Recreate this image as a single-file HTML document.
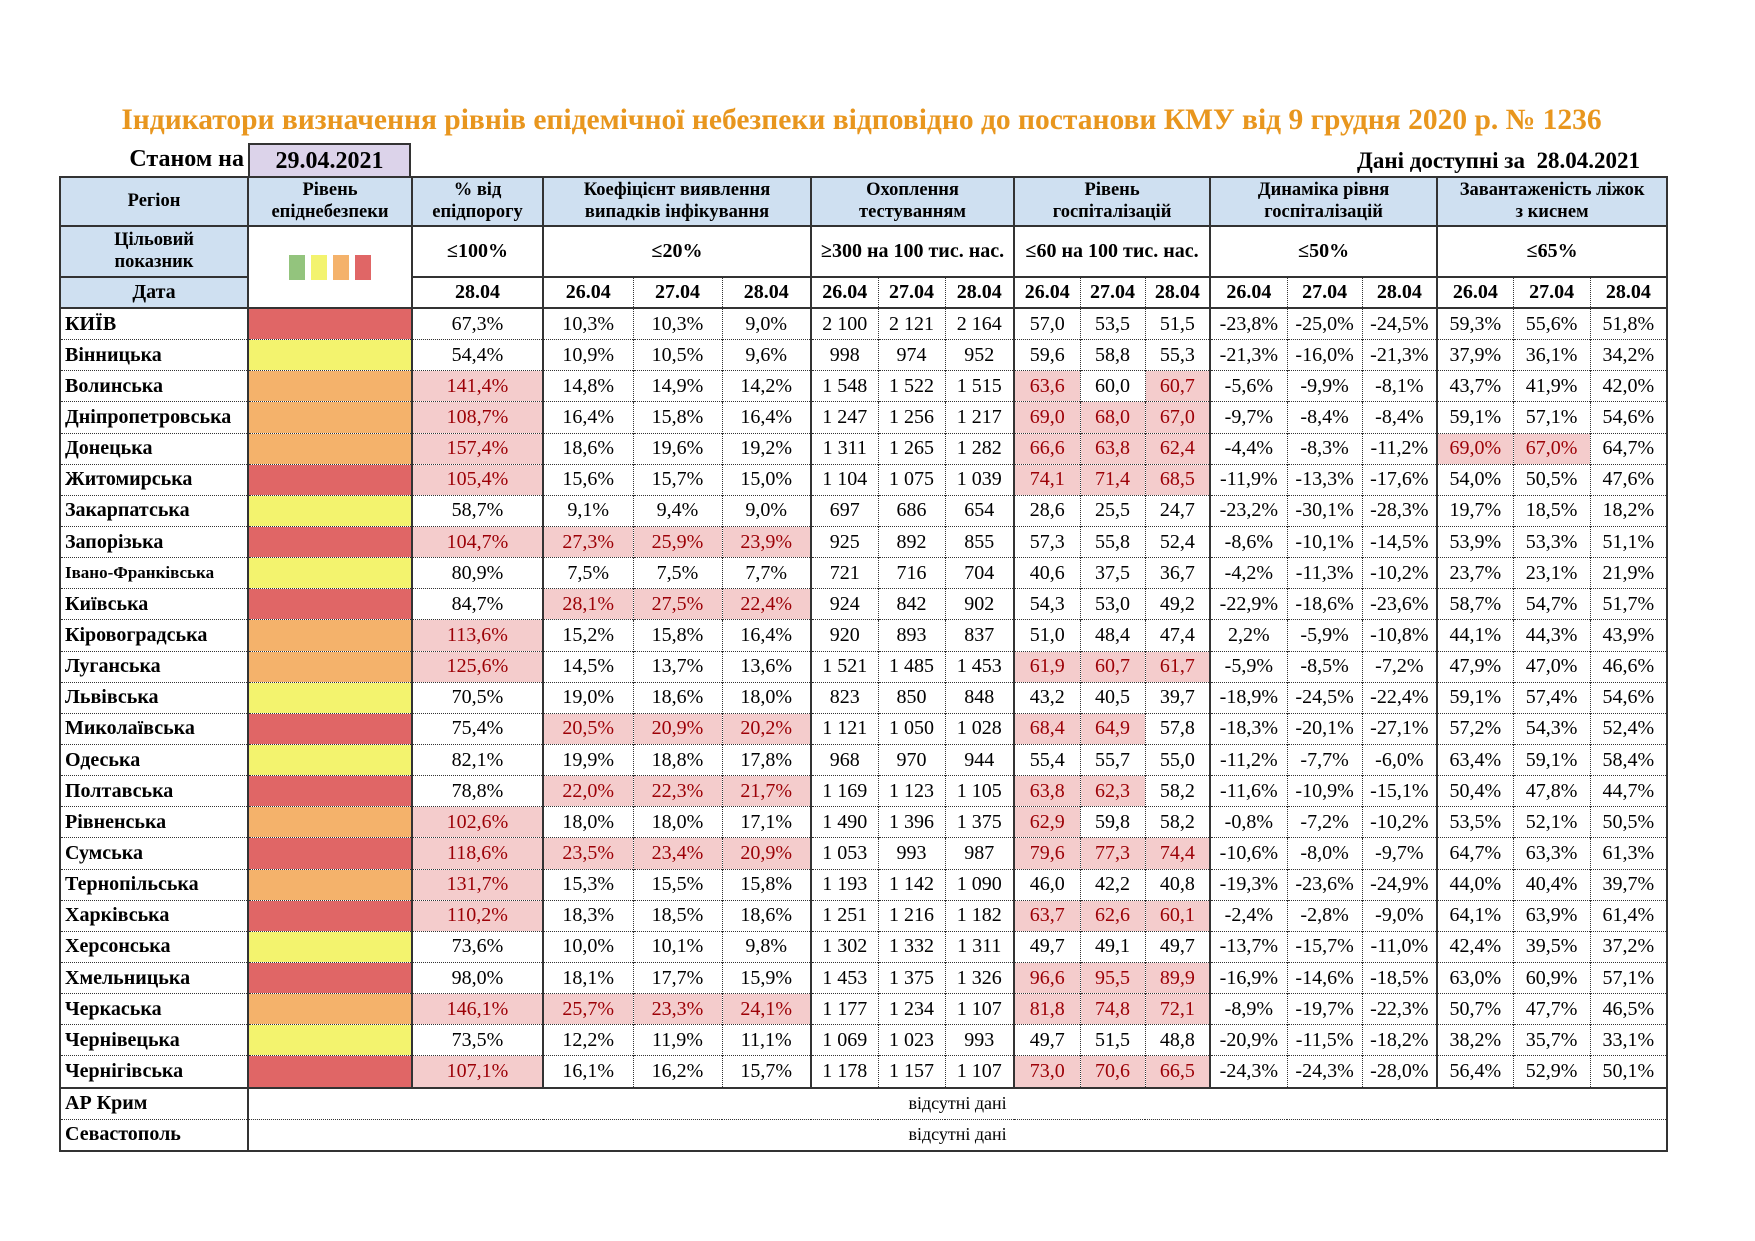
<!DOCTYPE html>
<html><head><meta charset="utf-8"><style>
body{margin:0;width:1755px;height:1241px;background:#fff;position:relative;font-family:"Liberation Serif",serif;overflow:hidden}
.title{position:absolute;left:-16px;width:1755px;top:104px;text-align:center;color:#E8961E;font-weight:bold;font-size:29.5px}
.st{position:absolute;left:98px;top:146px;width:146px;text-align:right;font-weight:bold;font-size:24px}
.dbox{position:absolute;left:248px;top:143px;width:163px;height:33px;background:#DCD3EA;border:2px solid #333;border-bottom:none;text-align:center;font-weight:bold;font-size:24px;line-height:33px;box-sizing:border-box}
.av{position:absolute;right:115px;top:148px;font-weight:bold;font-size:23px}
table{position:absolute;left:59px;top:176px;border-collapse:collapse;table-layout:fixed;width:1608px}
td{padding:0;text-align:center;font-size:20px;white-space:nowrap;border-left:1.5px dotted #333;border-top:1.5px dotted #333;overflow:hidden}
.hd td{background:#CFE0F1;font-weight:bold;font-size:18.5px;line-height:1.15;height:47px;border:2px solid #333}
.tg td{font-weight:bold;font-size:20px;height:49px;border:2px solid #333}
.dt td{font-weight:bold;font-size:20px;height:29px;border-top:2px solid #333;border-bottom:2px solid #333}
.b{background:#CFE0F1;font-weight:bold;border:2px solid #333!important}
td.g{border-left:2px solid #333}
tr.d td{height:30.15px}
td.rg{text-align:left;font-weight:bold;padding-left:4px;border-left:2px solid #333}
td.h{background:#F4CCCC;color:#9C0006}
td.r{background:#E06666;border-left:2px solid #333}td.y{background:#F3F36E;border-left:2px solid #333}td.o{background:#F4B26B;border-left:2px solid #333}
table{border:2px solid #333}
.sq{display:inline-block;width:16px;height:25px;margin:0 3px;vertical-align:middle}
</style></head><body>
<div class="title">Індикатори визначення рівнів епідемічної небезпеки відповідно до постанови КМУ від 9 грудня 2020 р. № 1236</div>
<div class="st">Станом на</div>
<div class="dbox">29.04.2021</div>
<div class="av">Дані доступні за&nbsp; 28.04.2021</div>
<table>
<colgroup><col style="width:188px"><col style="width:164px"><col style="width:131px"><col style="width:90px"><col style="width:89px"><col style="width:89px"><col style="width:67px"><col style="width:67px"><col style="width:69px"><col style="width:66px"><col style="width:65px"><col style="width:65px"><col style="width:77px"><col style="width:75px"><col style="width:75px"><col style="width:76px"><col style="width:77px"><col style="width:77px"></colgroup>
<tr class="hd"><td>Регіон</td><td>Рівень<br>епіднебезпеки</td><td>% від<br>епідпорогу</td><td colspan="3">Коефіцієнт виявлення<br>випадків інфікування</td><td colspan="3">Охоплення<br>тестуванням</td><td colspan="3">Рівень<br>госпіталізацій</td><td colspan="3">Динаміка рівня<br>госпіталізацій</td><td colspan="3">Завантаженість ліжок<br>з киснем</td></tr>
<tr class="tg"><td class="b" style="font-size:18.5px;line-height:1.15">Цільовий<br>показник</td><td rowspan="2" style="border:2px solid #333"><span class="sq" style="background:#93C47D"></span><span class="sq" style="background:#F3F36E"></span><span class="sq" style="background:#F4B26B"></span><span class="sq" style="background:#E06666"></span></td><td>≤100%</td><td colspan="3">≤20%</td><td colspan="3">≥300 на 100 тис. нас.</td><td colspan="3">≤60 на 100 тис. нас.</td><td colspan="3">≤50%</td><td colspan="3">≤65%</td></tr>
<tr class="dt"><td class="b">Дата</td><td class="g">28.04</td><td class="g">26.04</td><td>27.04</td><td>28.04</td><td class="g">26.04</td><td>27.04</td><td>28.04</td><td class="g">26.04</td><td>27.04</td><td>28.04</td><td class="g">26.04</td><td>27.04</td><td>28.04</td><td class="g">26.04</td><td>27.04</td><td>28.04</td></tr>
<tr class="d"><td class="rg">КИЇВ</td><td class="r"></td><td class="g">67,3%</td><td class="g">10,3%</td><td>10,3%</td><td>9,0%</td><td class="g">2 100</td><td>2 121</td><td>2 164</td><td class="g">57,0</td><td>53,5</td><td>51,5</td><td class="g">-23,8%</td><td>-25,0%</td><td>-24,5%</td><td class="g">59,3%</td><td>55,6%</td><td>51,8%</td></tr>
<tr class="d"><td class="rg">Вінницька</td><td class="y"></td><td class="g">54,4%</td><td class="g">10,9%</td><td>10,5%</td><td>9,6%</td><td class="g">998</td><td>974</td><td>952</td><td class="g">59,6</td><td>58,8</td><td>55,3</td><td class="g">-21,3%</td><td>-16,0%</td><td>-21,3%</td><td class="g">37,9%</td><td>36,1%</td><td>34,2%</td></tr>
<tr class="d"><td class="rg">Волинська</td><td class="o"></td><td class="g h">141,4%</td><td class="g">14,8%</td><td>14,9%</td><td>14,2%</td><td class="g">1 548</td><td>1 522</td><td>1 515</td><td class="g h">63,6</td><td>60,0</td><td class="h">60,7</td><td class="g">-5,6%</td><td>-9,9%</td><td>-8,1%</td><td class="g">43,7%</td><td>41,9%</td><td>42,0%</td></tr>
<tr class="d"><td class="rg">Дніпропетровська</td><td class="o"></td><td class="g h">108,7%</td><td class="g">16,4%</td><td>15,8%</td><td>16,4%</td><td class="g">1 247</td><td>1 256</td><td>1 217</td><td class="g h">69,0</td><td class="h">68,0</td><td class="h">67,0</td><td class="g">-9,7%</td><td>-8,4%</td><td>-8,4%</td><td class="g">59,1%</td><td>57,1%</td><td>54,6%</td></tr>
<tr class="d"><td class="rg">Донецька</td><td class="o"></td><td class="g h">157,4%</td><td class="g">18,6%</td><td>19,6%</td><td>19,2%</td><td class="g">1 311</td><td>1 265</td><td>1 282</td><td class="g h">66,6</td><td class="h">63,8</td><td class="h">62,4</td><td class="g">-4,4%</td><td>-8,3%</td><td>-11,2%</td><td class="g h">69,0%</td><td class="h">67,0%</td><td>64,7%</td></tr>
<tr class="d"><td class="rg">Житомирська</td><td class="r"></td><td class="g h">105,4%</td><td class="g">15,6%</td><td>15,7%</td><td>15,0%</td><td class="g">1 104</td><td>1 075</td><td>1 039</td><td class="g h">74,1</td><td class="h">71,4</td><td class="h">68,5</td><td class="g">-11,9%</td><td>-13,3%</td><td>-17,6%</td><td class="g">54,0%</td><td>50,5%</td><td>47,6%</td></tr>
<tr class="d"><td class="rg">Закарпатська</td><td class="y"></td><td class="g">58,7%</td><td class="g">9,1%</td><td>9,4%</td><td>9,0%</td><td class="g">697</td><td>686</td><td>654</td><td class="g">28,6</td><td>25,5</td><td>24,7</td><td class="g">-23,2%</td><td>-30,1%</td><td>-28,3%</td><td class="g">19,7%</td><td>18,5%</td><td>18,2%</td></tr>
<tr class="d"><td class="rg">Запорізька</td><td class="r"></td><td class="g h">104,7%</td><td class="g h">27,3%</td><td class="h">25,9%</td><td class="h">23,9%</td><td class="g">925</td><td>892</td><td>855</td><td class="g">57,3</td><td>55,8</td><td>52,4</td><td class="g">-8,6%</td><td>-10,1%</td><td>-14,5%</td><td class="g">53,9%</td><td>53,3%</td><td>51,1%</td></tr>
<tr class="d"><td class="rg" style="font-size:17px">Івано-Франківська</td><td class="y"></td><td class="g">80,9%</td><td class="g">7,5%</td><td>7,5%</td><td>7,7%</td><td class="g">721</td><td>716</td><td>704</td><td class="g">40,6</td><td>37,5</td><td>36,7</td><td class="g">-4,2%</td><td>-11,3%</td><td>-10,2%</td><td class="g">23,7%</td><td>23,1%</td><td>21,9%</td></tr>
<tr class="d"><td class="rg">Київська</td><td class="r"></td><td class="g">84,7%</td><td class="g h">28,1%</td><td class="h">27,5%</td><td class="h">22,4%</td><td class="g">924</td><td>842</td><td>902</td><td class="g">54,3</td><td>53,0</td><td>49,2</td><td class="g">-22,9%</td><td>-18,6%</td><td>-23,6%</td><td class="g">58,7%</td><td>54,7%</td><td>51,7%</td></tr>
<tr class="d"><td class="rg">Кіровоградська</td><td class="o"></td><td class="g h">113,6%</td><td class="g">15,2%</td><td>15,8%</td><td>16,4%</td><td class="g">920</td><td>893</td><td>837</td><td class="g">51,0</td><td>48,4</td><td>47,4</td><td class="g">2,2%</td><td>-5,9%</td><td>-10,8%</td><td class="g">44,1%</td><td>44,3%</td><td>43,9%</td></tr>
<tr class="d"><td class="rg">Луганська</td><td class="o"></td><td class="g h">125,6%</td><td class="g">14,5%</td><td>13,7%</td><td>13,6%</td><td class="g">1 521</td><td>1 485</td><td>1 453</td><td class="g h">61,9</td><td class="h">60,7</td><td class="h">61,7</td><td class="g">-5,9%</td><td>-8,5%</td><td>-7,2%</td><td class="g">47,9%</td><td>47,0%</td><td>46,6%</td></tr>
<tr class="d"><td class="rg">Львівська</td><td class="y"></td><td class="g">70,5%</td><td class="g">19,0%</td><td>18,6%</td><td>18,0%</td><td class="g">823</td><td>850</td><td>848</td><td class="g">43,2</td><td>40,5</td><td>39,7</td><td class="g">-18,9%</td><td>-24,5%</td><td>-22,4%</td><td class="g">59,1%</td><td>57,4%</td><td>54,6%</td></tr>
<tr class="d"><td class="rg">Миколаївська</td><td class="r"></td><td class="g">75,4%</td><td class="g h">20,5%</td><td class="h">20,9%</td><td class="h">20,2%</td><td class="g">1 121</td><td>1 050</td><td>1 028</td><td class="g h">68,4</td><td class="h">64,9</td><td>57,8</td><td class="g">-18,3%</td><td>-20,1%</td><td>-27,1%</td><td class="g">57,2%</td><td>54,3%</td><td>52,4%</td></tr>
<tr class="d"><td class="rg">Одеська</td><td class="y"></td><td class="g">82,1%</td><td class="g">19,9%</td><td>18,8%</td><td>17,8%</td><td class="g">968</td><td>970</td><td>944</td><td class="g">55,4</td><td>55,7</td><td>55,0</td><td class="g">-11,2%</td><td>-7,7%</td><td>-6,0%</td><td class="g">63,4%</td><td>59,1%</td><td>58,4%</td></tr>
<tr class="d"><td class="rg">Полтавська</td><td class="r"></td><td class="g">78,8%</td><td class="g h">22,0%</td><td class="h">22,3%</td><td class="h">21,7%</td><td class="g">1 169</td><td>1 123</td><td>1 105</td><td class="g h">63,8</td><td class="h">62,3</td><td>58,2</td><td class="g">-11,6%</td><td>-10,9%</td><td>-15,1%</td><td class="g">50,4%</td><td>47,8%</td><td>44,7%</td></tr>
<tr class="d"><td class="rg">Рівненська</td><td class="o"></td><td class="g h">102,6%</td><td class="g">18,0%</td><td>18,0%</td><td>17,1%</td><td class="g">1 490</td><td>1 396</td><td>1 375</td><td class="g h">62,9</td><td>59,8</td><td>58,2</td><td class="g">-0,8%</td><td>-7,2%</td><td>-10,2%</td><td class="g">53,5%</td><td>52,1%</td><td>50,5%</td></tr>
<tr class="d"><td class="rg">Сумська</td><td class="r"></td><td class="g h">118,6%</td><td class="g h">23,5%</td><td class="h">23,4%</td><td class="h">20,9%</td><td class="g">1 053</td><td>993</td><td>987</td><td class="g h">79,6</td><td class="h">77,3</td><td class="h">74,4</td><td class="g">-10,6%</td><td>-8,0%</td><td>-9,7%</td><td class="g">64,7%</td><td>63,3%</td><td>61,3%</td></tr>
<tr class="d"><td class="rg">Тернопільська</td><td class="o"></td><td class="g h">131,7%</td><td class="g">15,3%</td><td>15,5%</td><td>15,8%</td><td class="g">1 193</td><td>1 142</td><td>1 090</td><td class="g">46,0</td><td>42,2</td><td>40,8</td><td class="g">-19,3%</td><td>-23,6%</td><td>-24,9%</td><td class="g">44,0%</td><td>40,4%</td><td>39,7%</td></tr>
<tr class="d"><td class="rg">Харківська</td><td class="r"></td><td class="g h">110,2%</td><td class="g">18,3%</td><td>18,5%</td><td>18,6%</td><td class="g">1 251</td><td>1 216</td><td>1 182</td><td class="g h">63,7</td><td class="h">62,6</td><td class="h">60,1</td><td class="g">-2,4%</td><td>-2,8%</td><td>-9,0%</td><td class="g">64,1%</td><td>63,9%</td><td>61,4%</td></tr>
<tr class="d"><td class="rg">Херсонська</td><td class="y"></td><td class="g">73,6%</td><td class="g">10,0%</td><td>10,1%</td><td>9,8%</td><td class="g">1 302</td><td>1 332</td><td>1 311</td><td class="g">49,7</td><td>49,1</td><td>49,7</td><td class="g">-13,7%</td><td>-15,7%</td><td>-11,0%</td><td class="g">42,4%</td><td>39,5%</td><td>37,2%</td></tr>
<tr class="d"><td class="rg">Хмельницька</td><td class="r"></td><td class="g">98,0%</td><td class="g">18,1%</td><td>17,7%</td><td>15,9%</td><td class="g">1 453</td><td>1 375</td><td>1 326</td><td class="g h">96,6</td><td class="h">95,5</td><td class="h">89,9</td><td class="g">-16,9%</td><td>-14,6%</td><td>-18,5%</td><td class="g">63,0%</td><td>60,9%</td><td>57,1%</td></tr>
<tr class="d"><td class="rg">Черкаська</td><td class="o"></td><td class="g h">146,1%</td><td class="g h">25,7%</td><td class="h">23,3%</td><td class="h">24,1%</td><td class="g">1 177</td><td>1 234</td><td>1 107</td><td class="g h">81,8</td><td class="h">74,8</td><td class="h">72,1</td><td class="g">-8,9%</td><td>-19,7%</td><td>-22,3%</td><td class="g">50,7%</td><td>47,7%</td><td>46,5%</td></tr>
<tr class="d"><td class="rg">Чернівецька</td><td class="y"></td><td class="g">73,5%</td><td class="g">12,2%</td><td>11,9%</td><td>11,1%</td><td class="g">1 069</td><td>1 023</td><td>993</td><td class="g">49,7</td><td>51,5</td><td>48,8</td><td class="g">-20,9%</td><td>-11,5%</td><td>-18,2%</td><td class="g">38,2%</td><td>35,7%</td><td>33,1%</td></tr>
<tr class="d"><td class="rg">Чернігівська</td><td class="r"></td><td class="g h">107,1%</td><td class="g">16,1%</td><td>16,2%</td><td>15,7%</td><td class="g">1 178</td><td>1 157</td><td>1 107</td><td class="g h">73,0</td><td class="h">70,6</td><td class="h">66,5</td><td class="g">-24,3%</td><td>-24,3%</td><td>-28,0%</td><td class="g">56,4%</td><td>52,9%</td><td>50,1%</td></tr>
<tr class="d"><td class="rg" style="border-top:2px solid #333">АР Крим</td><td colspan="17" class="g" style="border-top:2px solid #333;font-size:18px">відсутні дані</td></tr>
<tr class="d"><td class="rg">Севастополь</td><td colspan="17" class="g" style="font-size:18px">відсутні дані</td></tr>
</table>
</body></html>
